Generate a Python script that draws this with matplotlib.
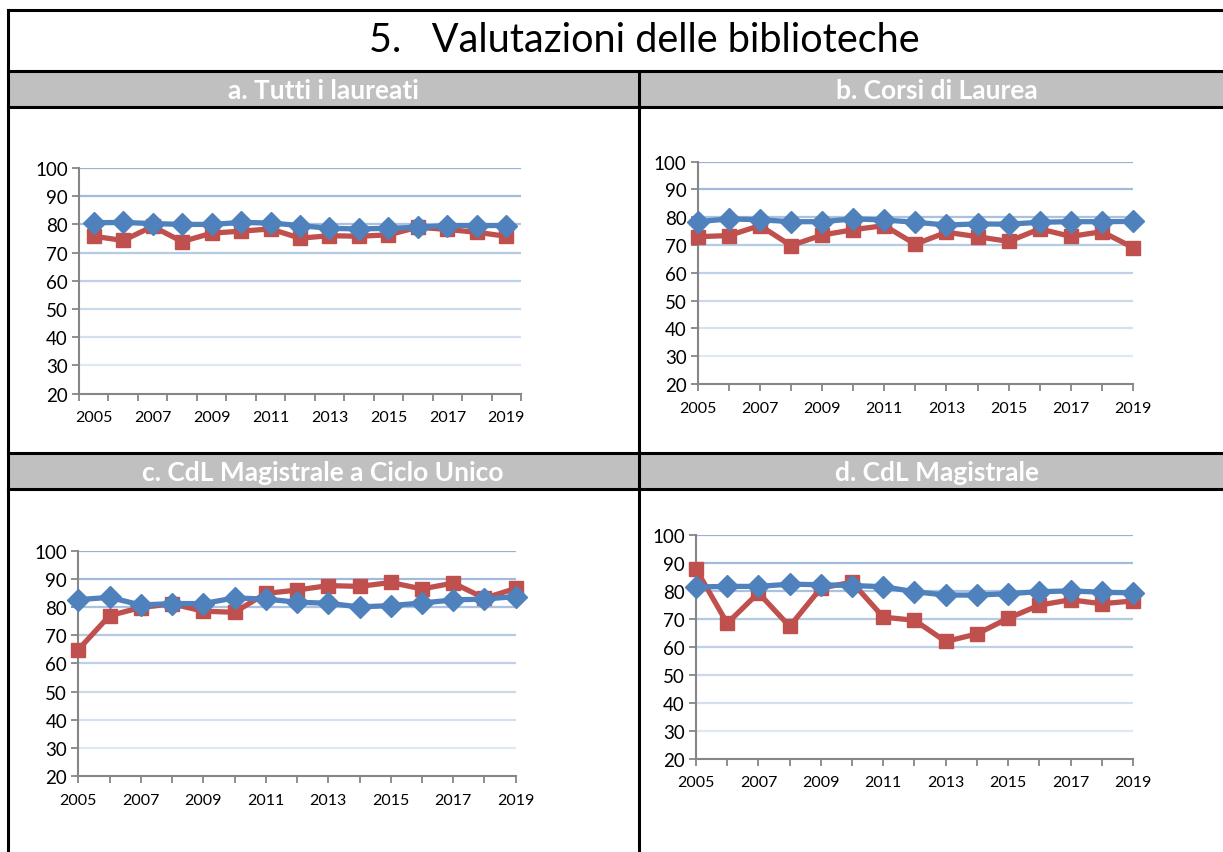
import numpy as np
import matplotlib
matplotlib.use("Agg")
import matplotlib.pyplot as plt
from matplotlib.lines import Line2D
from matplotlib.patches import Rectangle

plt.rcParams['font.family'] = ['Lato', 'DejaVu Sans']

years = list(range(2005, 2020))

# a. Tutti i laureati
a_blue = [80.6, 80.7, 80.3, 80.0, 80.0, 80.7, 80.5, 79.6, 78.6, 78.4, 78.6, 79.0, 79.6, 79.6, 79.6]
a_red = [75.8, 74.3, 79.3, 73.9, 76.9, 77.6, 78.4, 75.1, 76.0, 75.8, 76.3, 79.0, 78.2, 77.2, 75.8]

# b. Corsi di Laurea
b_blue = [78.4, 79.4, 79.1, 78.4, 78.4, 79.4, 79.0, 78.2, 77.2, 77.6, 77.5, 78.2, 78.4, 78.4, 78.5]
b_red = [73.0, 73.4, 77.0, 69.8, 73.6, 75.5, 77.0, 70.3, 74.6, 73.0, 71.3, 75.8, 73.1, 74.8, 69.1]

# c. CdL Magistrale a Ciclo Unico
c_blue = [82.7, 83.5, 80.8, 81.3, 81.3, 83.3, 82.9, 81.8, 81.4, 80.1, 80.6, 81.5, 82.6, 82.9, 83.8]
c_red = [64.9, 77.0, 79.9, 81.2, 78.6, 78.2, 84.9, 86.1, 87.7, 87.4, 88.8, 86.5, 88.6, 83.2, 86.7]

# d. CdL Magistrale
d_blue = [81.4, 81.6, 81.6, 82.4, 82.2, 81.9, 81.5, 79.7, 78.5, 78.5, 79.0, 79.7, 80.0, 79.5, 79.3]
d_red = [87.8, 68.4, 79.3, 67.3, 81.0, 83.1, 70.6, 69.5, 61.9, 64.6, 70.2, 74.9, 76.8, 75.4, 76.4]

titles = ["a. Tutti i laureati", "b. Corsi di Laurea",
          "c. CdL Magistrale a Ciclo Unico", "d. CdL Magistrale"]
main_title = "5.   Valutazioni delle biblioteche"
yticks = [20, 30, 40, 50, 60, 70, 80, 90, 100]

W, H = 1223, 853
fig = plt.figure(figsize=(W / 100, H / 100), dpi=100)

# table frame drawn in a pixel-coordinate background axes
bg = fig.add_axes([0, 0, 1, 1])
bg.set_xlim(0, W)
bg.set_ylim(H, 0)
bg.axis('off')
bg.add_patch(Rectangle((8, 72), W, 36, color='#c0c0c0', zorder=0))
bg.add_patch(Rectangle((8, 454), W, 36, color='#c0c0c0', zorder=0))
for yy in [11, 72, 108, 454, 490]:
    bg.add_line(Line2D([8, W], [yy, yy], color='black', lw=2.2))
bg.add_line(Line2D([8, 8], [11, H], color='black', lw=2.2))
bg.add_line(Line2D([639, 639], [72, H], color='black', lw=2.2))

bg.text(644, 40, main_title, fontsize=28.5, ha='center', va='center')
hdr = [(323, 91), (937, 91), (323, 473), (937, 473)]
for (hx, hy), t in zip(hdr, titles):
    bg.text(hx, hy, t, fontsize=19, fontweight='bold', color='white',
            ha='center', va='center')

positions = [[0.0646, 0.5373, 0.3614, 0.2646],
             [0.5705, 0.5487, 0.3559, 0.2606],
             [0.0640, 0.0891, 0.3577, 0.2638],
             [0.5691, 0.1094, 0.3573, 0.2623]]
blues = [a_blue, b_blue, c_blue, d_blue]
reds = [a_red, b_red, c_red, d_red]

grid_top = np.array([0x95, 0xb3, 0xd7]) / 255
grid_bot = np.array([0xdf, 0xe8, 0xf4]) / 255

for i in range(4):
    ax = fig.add_axes(positions[i])
    ax.set_ylim(20, 100)
    between = (i == 0)
    if between:
        ax.set_xlim(2004.5, 2019.5)
        ax.set_xticks(np.arange(2004.5, 2020, 1))
        ax.set_xticklabels([])
        ax.set_xticks(years[::2], minor=True)
        ax.set_xticklabels([str(y) for y in years[::2]], minor=True)
        ax.tick_params(axis='x', which='minor', length=0, labelsize=11.5, pad=12)
    else:
        ax.set_xlim(2005, 2019)
        ax.set_xticks(years)
        ax.set_xticklabels([str(y) if (y - 2005) % 2 == 0 else '' for y in years])
    ax.tick_params(axis='x', which='major', length=5, width=1.3, color='#868686',
                   labelsize=11.5, pad=7)
    ax.set_yticks(yticks)
    ax.tick_params(axis='y', length=5, width=1.3, color='#868686', labelsize=13.5, pad=3)

    for g in yticks[1:]:
        f = (100 - g) / 70
        col = grid_top * (1 - f) + grid_bot * f
        ax.axhline(g, color=col, lw=1.6, zorder=1)

    for s in ['top', 'right']:
        ax.spines[s].set_visible(False)
    for s in ['left', 'bottom']:
        ax.spines[s].set_color('#868686')
        ax.spines[s].set_linewidth(1.5)
    ax.set_facecolor('none')

    ax.plot(years, reds[i], color='#c0504d', lw=3.8, marker='s', markersize=10,
            zorder=3, clip_on=False)
    ax.plot(years, blues[i], color='#4f81bd', lw=3.8, marker='D', markersize=11,
            zorder=4, clip_on=False)

fig.savefig('out.png', dpi=100)
